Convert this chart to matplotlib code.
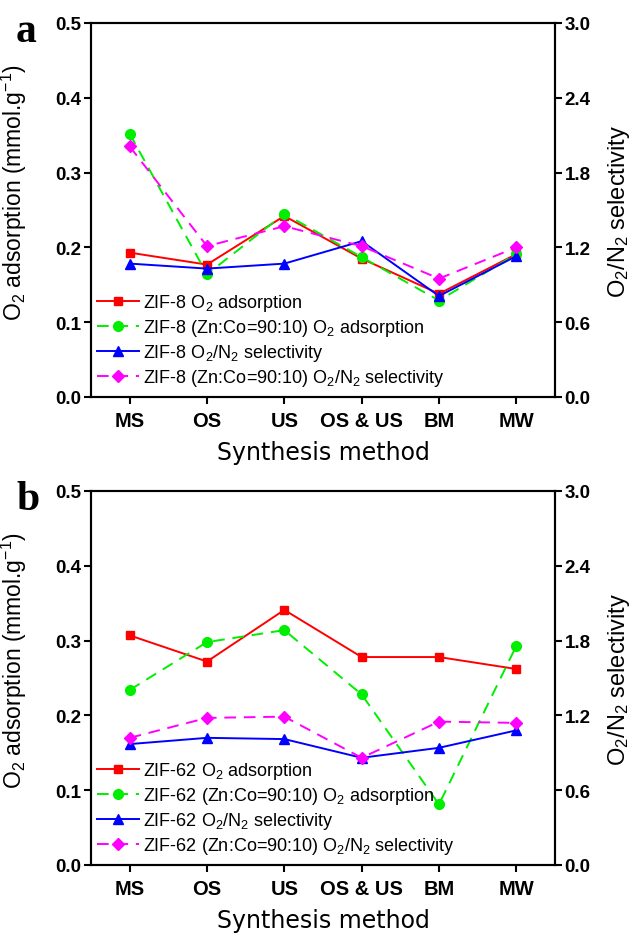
import matplotlib
matplotlib.use("Agg")
import matplotlib.pyplot as plt

plt.rcParams['font.family'] = ['Liberation Sans', 'DejaVu Sans']
plt.rcParams['mathtext.default'] = 'regular'

methods = ["MS", "OS", "US", "OS & US", "BM", "MW"]

# ZIF-8 series
zif8_o2 = [0.193, 0.177, 0.242, 0.185, 0.138, 0.191]
zif8_co_o2 = [0.352, 0.164, 0.245, 0.187, 0.129, 0.191]
zif8_sel = [1.07, 1.03, 1.07, 1.25, 0.81, 1.13]
zif8_co_sel = [2.01, 1.21, 1.37, 1.21, 0.95, 1.20]

# ZIF-62 series
zif62_o2 = [0.307, 0.272, 0.341, 0.278, 0.278, 0.262]
zif62_co_o2 = [0.234, 0.298, 0.314, 0.228, 0.081, 0.293]
zif62_sel = [0.97, 1.02, 1.01, 0.86, 0.94, 1.08]
zif62_co_sel = [1.02, 1.18, 1.19, 0.86, 1.15, 1.14]

left_ticks = [0.0, 0.1, 0.2, 0.3, 0.4, 0.5]
right_ticks = [0.0, 0.6, 1.2, 1.8, 2.4, 3.0]

fig = plt.figure(figsize=(6.33, 9.37), dpi=100)

W, H = 633, 937


def panel(top_px, letter, name, o2, co_o2, sel, co_sel):
    left_px, right_px, height_px = 91, 555, 374
    width_px = right_px - left_px
    rect = [left_px / W, 1 - (top_px + height_px) / H,
            width_px / W, height_px / H]
    ax = fig.add_axes(rect)
    ax2 = ax.twinx()
    x = list(range(len(methods)))

    l1, = ax.plot(x, o2, color='#ff0000', lw=1.4, marker='s', ms=6,
                  label=f"{name} O$_2$ adsorption")
    l2, = ax.plot(x, co_o2, color='#00ee00', lw=1.4, ls=(0, (6, 4)),
                  marker='o', ms=7,
                  label=f"{name} (Zn:Co=90:10) O$_2$ adsorption")
    l3, = ax2.plot(x, sel, color='#0000ff', lw=1.4, marker='^', ms=7.5,
                   label=f"{name} O$_2$/N$_2$ selectivity")
    l4, = ax2.plot(x, co_sel, color='#ff00ff', lw=1.4, ls=(0, (6, 4)),
                   marker='D', ms=6.5,
                   label=f"{name} (Zn:Co=90:10) O$_2$/N$_2$ selectivity")

    ax.set_xlim(-0.5, len(methods) - 0.5)
    ax.set_ylim(0, 0.5)
    ax2.set_ylim(0, 3.0)
    ax.set_yticks(left_ticks)
    ax.set_yticklabels([f"{t:.1f}" for t in left_ticks])
    ax2.set_yticks(right_ticks)
    ax2.set_yticklabels([f"{t:.1f}" for t in right_ticks])
    ax.set_xticks(x)
    ax.set_xticklabels(methods)

    for a in (ax, ax2):
        for s in a.spines.values():
            s.set_linewidth(1.5)
    ax.tick_params(axis='y', direction='out', length=5, width=1.5,
                   labelsize=13.5, pad=2)
    ax2.tick_params(axis='y', direction='out', length=5, width=1.5,
                    labelsize=13.5, pad=2)
    ax.tick_params(axis='x', direction='out', length=5, width=1.5,
                   labelsize=14.5, pad=5)
    for lab in ax.get_yticklabels() + ax2.get_yticklabels() + ax.get_xticklabels():
        lab.set_fontweight('bold')

    ax.set_ylabel("O$_2$ adsorption (mmol.g$^{-1}$)", fontsize=16.5)
    ax.yaxis.set_label_coords((29 - left_px) / width_px, 0.55)
    ax2.set_ylabel("O$_2$/N$_2$ selectivity", fontsize=17)
    ax2.yaxis.set_label_coords((606 - left_px) / width_px, 0.5)
    ax.set_xlabel("Synthesis method", fontsize=17, labelpad=7,
                  family=['DejaVu Sans'])

    ax2.legend(handles=[l1, l2, l3, l4], loc='lower left',
               bbox_to_anchor=(-0.006, 0.0), frameon=False,
               fontsize=13, handlelength=2.3, handletextpad=0.25,
               labelspacing=0.22, borderaxespad=0.1)
    ax2.set_zorder(ax.get_zorder() + 1)

    fig.text(16 / W, 1 - (top_px + 8) / H, letter, fontsize=30,
             fontweight='bold', family=['Liberation Serif', 'DejaVu Serif'],
             va='center', ha='left')


panel(24, "a", "ZIF-8", zif8_o2, zif8_co_o2, zif8_sel, zif8_co_sel)
panel(492, "b", "ZIF-62", zif62_o2, zif62_co_o2, zif62_sel, zif62_co_sel)

fig.savefig("out.png", dpi=100)
